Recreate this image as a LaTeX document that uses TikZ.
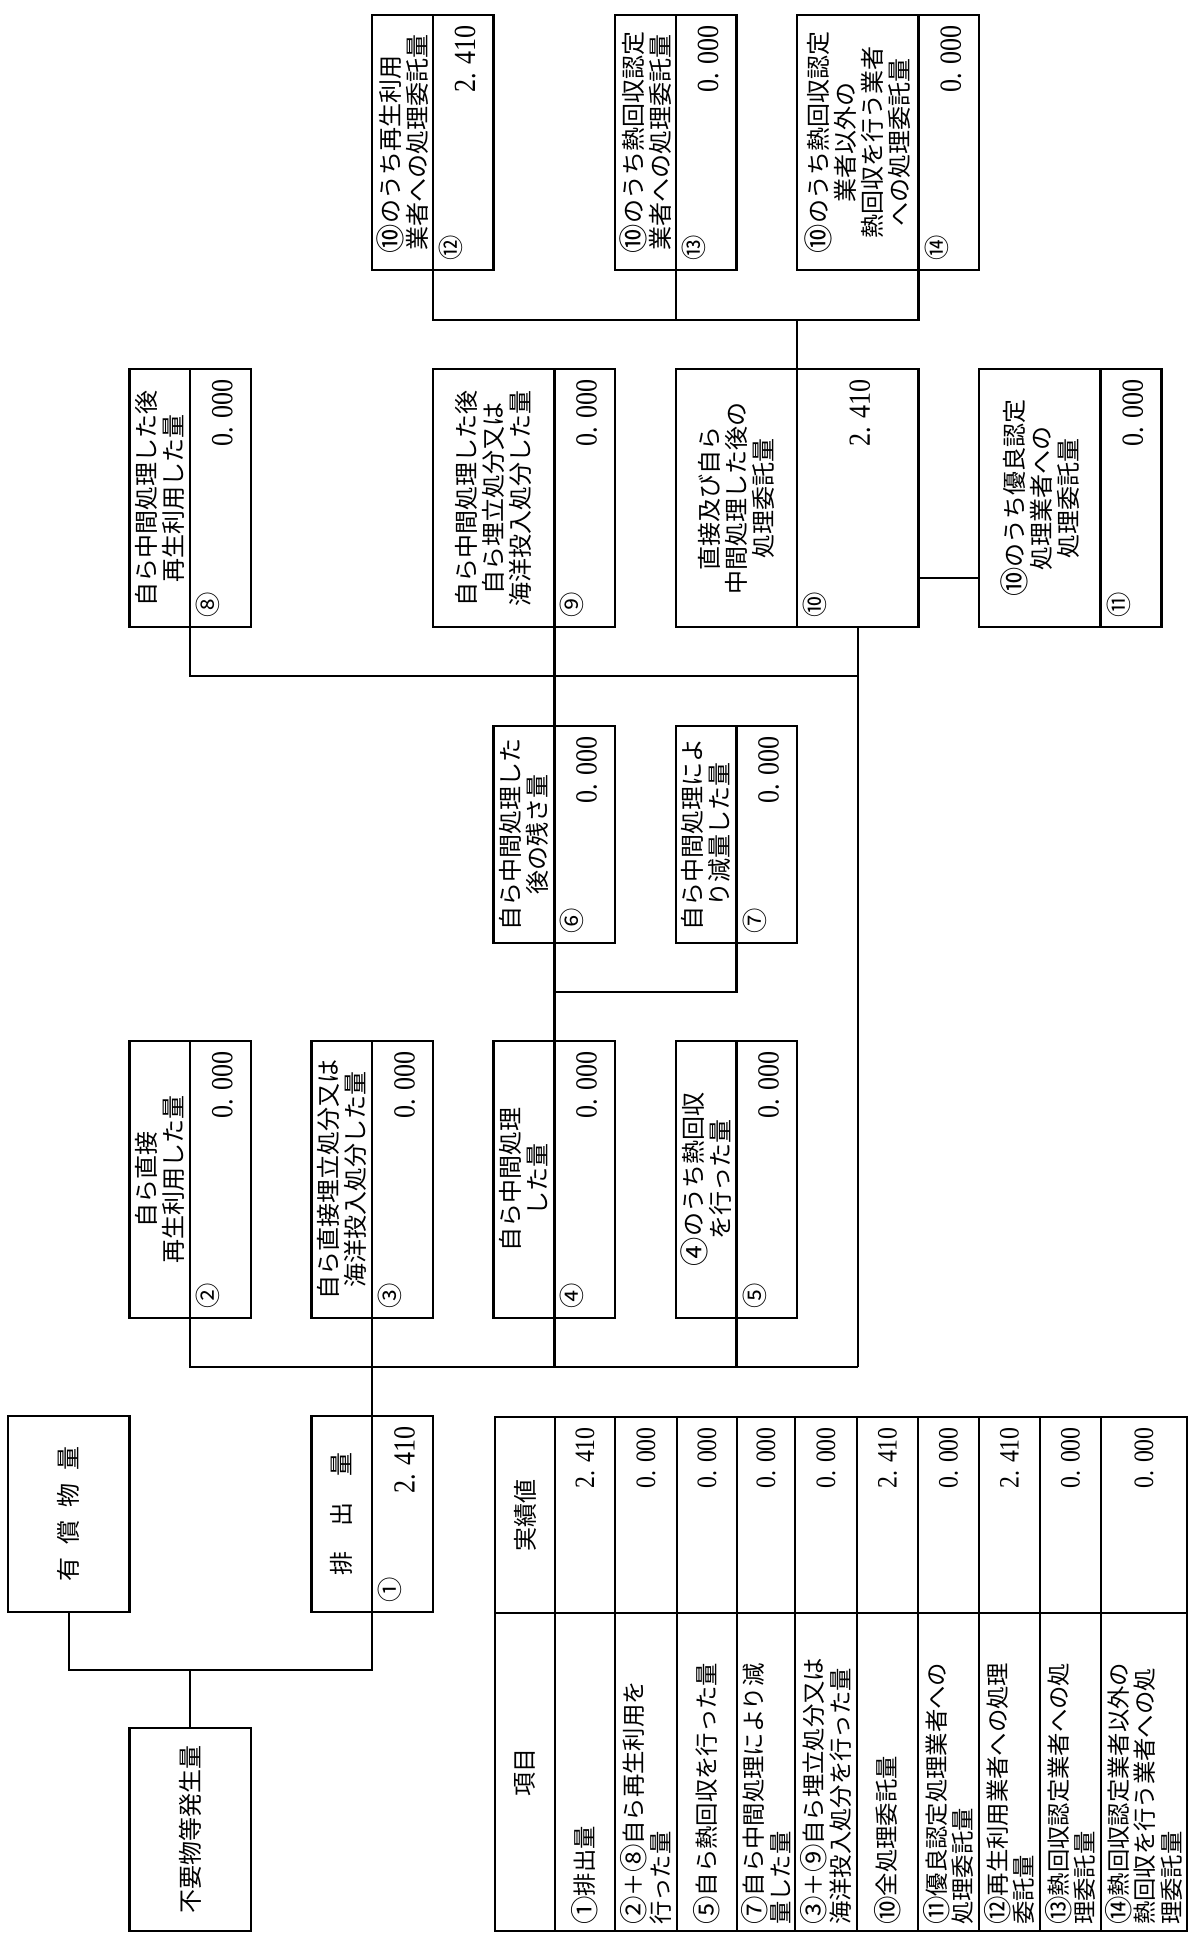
\documentclass[tikz,border=0pt]{standalone}
\usepackage{fontspec}
\usepackage{graphicx}
\usetikzlibrary{fit}
\newfontfamily\jp{Noto Sans CJK JP}
\newfontfamily\dg[FakeStretch=0.85]{Liberation Serif}
\newcommand{\cn}[1]{\raisebox{-0.1em}{\scalebox{1.22}{#1}}}
\tikzset{
  bx/.style={draw, rectangle, line width=1.8pt, inner sep=0pt},
  ln/.style={line width=1.8pt},
  lbl/.style={rotate=90, align=center, inner sep=0pt, font=\jp\fontsize{18}{20.25}\selectfont},
  num/.style={rotate=90, anchor=west, inner sep=0pt, font=\jp\fontsize{19}{19}\selectfont},
  val/.style={rotate=90, anchor=east, inner sep=0pt, font=\dg\fontsize{23}{23}\selectfont},
  titem/.style={rotate=90, anchor=west, align=left, inner sep=0pt, font=\jp\fontsize{17.5}{20}\selectfont},
  tval/.style={rotate=90, anchor=east, inner sep=0pt, font=\dg\fontsize{21}{21}\selectfont},
  thead/.style={rotate=90, inner sep=0pt, font=\jp\fontsize{18}{18}\selectfont}
}
% #1 name, #2 left X, #3 divider X, #4 right X, #5 top Y, #6 bottom Y, #7 label, #8 number, #9 value
\newcommand{\flowbox}[9]{%
  \node[bx, fit={(#2,#5) (#4,#6)}] (#1) {};
  \coordinate (#1-t) at (#3,#5);
  \coordinate (#1-b) at (#3,#6);
  \draw[ln] (#1-t) -- (#1-b);
  \node[lbl] (#1-l) at ({(#2+#3)/2},{(#5+#6)/2}) {#7};
  \node[num] (#1-n) at ({#3+18},{#6-9}) {#8};
  \node[val] (#1-v) at ({(#3+#4)/2+2},{#5+10}) {#9};
}
\begin{document}
\begin{tikzpicture}[x=0.75pt,y=-0.75pt]
\useasboundingbox (0,0) rectangle (1193,1945);
\fill[white] (0,0) rectangle (1193,1945);

% top row
\flowbox{b12}{372.2}{432.9}{493.6}{15}{270}{\cn{⑩}のうち再生利用\hspace*{1em}\\業者への処理委託量}{⑫}{2. 410}
\flowbox{b13}{615}{675.7}{736.4}{15}{270}{\cn{⑩}のうち熱回収認定\\業者への処理委託量}{⑬}{0. 000}
\flowbox{b14}{797.1}{918.5}{979.2}{15}{270}{\cn{⑩}のうち熱回収認定\\業者以外の\\熱回収を行う業者\\への処理委託量}{⑭}{0. 000}

% second row
\flowbox{b8}{129.4}{190.1}{250.8}{369}{627}{自ら中間処理した後\\再生利用した量}{⑧}{0. 000}
\flowbox{b9}{432.9}{554.3}{615}{369}{627}{自ら中間処理した後\\自ら埋立処分又は\\海洋投入処分した量}{⑨}{0. 000}
\flowbox{b10}{675.7}{797.1}{918.5}{369}{627}{直接及び自ら\\中間処理した後の\\処理委託量}{⑩}{2. 410}
\flowbox{b11}{979.2}{1100.6}{1161.3}{369}{627}{\cn{⑩}のうち優良認定\\処理業者への\\処理委託量}{⑪}{0. 000}

% third row
\flowbox{b6}{493.6}{554.3}{615}{726}{943}{自ら中間処理した\\後の残さ量}{⑥}{0. 000}
\flowbox{b7}{675.7}{736.4}{797.1}{726}{943}{自ら中間処理によ\\り減量した量}{⑦}{0. 000}

% fourth row
\flowbox{b2}{129.4}{190.1}{250.8}{1041}{1318}{自ら直接\\再生利用した量}{②}{0. 000}
\flowbox{b3}{311.5}{372.2}{432.9}{1041}{1318}{自ら直接埋立処分又は\\海洋投入処分した量}{③}{0. 000}
\flowbox{b4}{493.6}{554.3}{615}{1041}{1318}{自ら中間処理\\した量}{④}{0. 000}
\flowbox{b5}{675.7}{736.4}{797.1}{1041}{1318}{\cn{④}のうち熱回収\\を行った量}{⑤}{0. 000}

% bottom
\node[bx, fit={(8,1416) (129.4,1612)}] (b0) {};
\node[lbl] (b0-l) at (b0.center) {有\hspace{0.53em}償\hspace{0.53em}物\hspace{0.53em}量};
\flowbox{b1}{311.5}{372.2}{432.9}{1416}{1612}{排\hspace{1.05em}出\hspace{1.05em}量}{①}{2. 410}
\node[bx, fit={(129.4,1728) (250.8,1931)}] (bA) {};
\node[lbl] (bA-l) at (bA.center) {不要物等発生量};

% connectors
\coordinate (busT) at (0,320);
\coordinate (busM) at (0,676);
\coordinate (busL) at (0,1367);
\coordinate (busB) at (0,1670);
\coordinate (bus67) at (0,992);
\coordinate (bus1011) at (0,578);
\coordinate (trunk) at (857.8,0);

\draw[ln] (b12-b) |- (b14-b |- busT) -- (b14-b);
\draw[ln] (b13-b) -- (b13-b |- busT);
\draw[ln] (b10-t) -- (b10-t |- busT);
\draw[ln] (b10.east |- bus1011) -- (b11.west |- bus1011);
\draw[ln] (b8-b) |- (trunk |- busM);
\draw[ln] (b9-b) -- (b9-b |- busM);
\draw[ln] (b6-t) -- (b6-t |- busM);
\draw[ln] (trunk |- b10.south) -- (trunk |- busL);
\draw[ln] (b6-b) -- (b4-t);
\draw[ln] (b7-b) |- (b6-b |- bus67);
\draw[ln] (b2-b) |- (trunk |- busL);
\draw[ln] (b3-b) -- (b1-t);
\draw[ln] (b4-b) -- (b4-b |- busL);
\draw[ln] (b5-b) -- (b5-b |- busL);
\draw[ln] (b1-b) |- (b0.south |- busB) -- (b0.south);
\draw[ln] (bA.north) -- (bA.north |- busB);

% table
\node[bx, fit={(495,1417) (1187,1931)}] (tbl) {};
\foreach \xx in {555,615,677,737,795,857,918,979,1040,1101} {\draw[ln] (\xx,1417) -- (\xx,1931);}
\draw[ln] (495,1613) -- (1187,1613);
\node[thead] (h1) at (525,1772) {項目};
\node[thead] (h2) at (525,1515) {実績値};

\node[titem] (r1) at (585,1925) {\cn{①}排出量};
\node[tval] (v1) at (585,1427) {2. 410};
\node[titem] (r2) at (646,1925) {\cn{②}＋\cn{⑧}自ら再生利用を\\行った量};
\node[tval] (v2) at (646,1427) {0. 000};
\node[titem] (r3) at (707,1925) {\cn{⑤}自ら熱回収を行った量};
\node[tval] (v3) at (707,1427) {0. 000};
\node[titem] (r4) at (766,1925) {\cn{⑦}自ら中間処理により減\\量した量};
\node[tval] (v4) at (766,1427) {0. 000};
\node[titem] (r5) at (826,1925) {\cn{③}＋\cn{⑨}自ら埋立処分又は\\海洋投入処分を行った量};
\node[tval] (v5) at (826,1427) {0. 000};
\node[titem] (r6) at (887.5,1925) {\cn{⑩}全処理委託量};
\node[tval] (v6) at (887.5,1427) {2. 410};
\node[titem] (r7) at (948.5,1925) {\cn{⑪}優良認定処理業者への\\処理委託量};
\node[tval] (v7) at (948.5,1427) {0. 000};
\node[titem] (r8) at (1009.5,1925) {\cn{⑫}再生利用業者への処理\\委託量};
\node[tval] (v8) at (1009.5,1427) {2. 410};
\node[titem] (r9) at (1070.5,1925) {\cn{⑬}熱回収認定業者への処\\理委託量};
\node[tval] (v9) at (1070.5,1427) {0. 000};
\node[titem] (r10) at (1144,1925) {\cn{⑭}熱回収認定業者以外の\\熱回収を行う業者への処\\理委託量};
\node[tval] (v10) at (1144,1427) {0. 000};
\end{tikzpicture}
\end{document}
